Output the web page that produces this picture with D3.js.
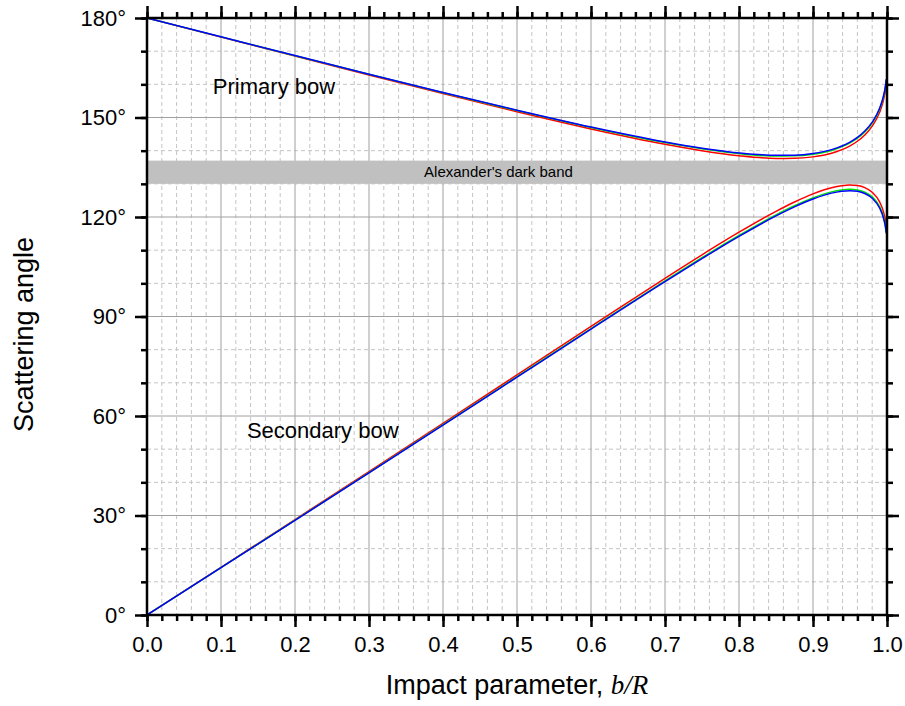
<!DOCTYPE html>
<html>
<head>
<meta charset="utf-8">
<script src="https://cdn.jsdelivr.net/npm/d3@7"></script>
<style>
  html, body { margin: 0; padding: 0; background: #fff; }
  svg { display: block; }
  text { font-family: Arial, "Liberation Sans", sans-serif; }
</style>
</head>
<body>
<svg id="chart" width="905" height="706"></svg>
<script>
// ---- data ----
const impactParameter = [0, 0.1, 0.2, 0.3, 0.4, 0.5, 0.6, 0.7, 0.75, 0.8, 0.85, 0.875, 0.9, 0.925, 0.95, 0.96, 0.97, 0.98, 0.99, 0.995, 0.998, 0.999];

const primaryRed   = [180, 174.24, 168.51, 162.81, 157.20, 151.74, 146.56, 141.93, 139.99, 138.48, 137.67, 137.68, 138.13, 139.24, 141.45, 142.84, 144.73, 147.38, 151.56, 155.02, 158.46, 160.32];
const primaryGreen = [180, 174.31, 168.64, 163.01, 157.47, 152.09, 147.00, 142.46, 140.58, 139.12, 138.38, 138.43, 138.92, 140.07, 142.32, 143.74, 145.64, 148.31, 152.51, 155.98, 159.42, 161.29];
const primaryBlue  = [180, 174.33, 168.67, 163.07, 157.55, 152.19, 147.12, 142.62, 140.75, 139.32, 138.59, 138.65, 139.15, 140.31, 142.58, 144.00, 145.91, 148.59, 152.79, 156.27, 159.71, 161.58];

const secondaryRed   = [0, 14.37, 28.78, 43.24, 57.78, 72.39, 87.03, 101.53, 108.60, 115.41, 121.71, 124.52, 126.96, 128.81, 129.63, 129.47, 128.84, 127.45, 124.56, 121.74, 118.69, 116.96];
const secondaryGreen = [0, 14.28, 28.58, 42.94, 57.37, 71.87, 86.38, 100.73, 107.73, 114.45, 120.64, 123.40, 125.78, 127.57, 128.33, 128.14, 127.48, 126.06, 123.13, 120.29, 117.24, 115.50];
const secondaryBlue  = [0, 14.25, 28.52, 42.86, 57.25, 71.71, 86.18, 100.50, 107.46, 114.16, 120.33, 123.07, 125.43, 127.20, 127.94, 127.74, 127.07, 125.64, 122.70, 119.86, 116.81, 115.07];

const seriesColors = ["#ff0000", "#00e000", "#0000ff"];

const xMajorTicks = [0, 0.1, 0.2, 0.3, 0.4, 0.5, 0.6, 0.7, 0.8, 0.9, 1.0];
const xMinorTicks = d3.range(0, 51).map(i => i / 50);
const yMajorTicks = [0, 30, 60, 90, 120, 150, 180];
const yMinorTicks = d3.range(0, 19).map(i => i * 10);

const darkBand = [130, 137];
const darkBandLabel = "Alexander's dark band";
const darkBandLabelX = 0.475;
const annotations = [
  { text: "Primary bow", x: 0.089, y: 157.1 },
  { text: "Secondary bow", x: 0.135, y: 53.4 }
];

// ---- layout ----
const svg = d3.select("#chart");
const pLeft = 147, pRight = 887, pTop = 18, pBottom = 615;
const x = d3.scaleLinear().domain([0, 1]).range([pLeft, pRight]);
const y = d3.scaleLinear().domain([0, 180]).range([pBottom, pTop]);

svg.append("defs").append("clipPath").attr("id", "clip")
  .append("rect").attr("x", pLeft).attr("y", pTop).attr("width", pRight - pLeft).attr("height", pBottom - pTop);

// grid: minor dashed
const grid = svg.append("g");
grid.selectAll("line.vminor").data(xMinorTicks.filter(d => Math.round(d * 50) % 5 !== 0)).join("line")
  .attr("x1", d => x(d)).attr("x2", d => x(d)).attr("y1", pTop).attr("y2", pBottom)
  .attr("stroke", "#c4c4c4").attr("stroke-width", 1).attr("stroke-dasharray", "4,3");
grid.selectAll("line.hminor").data(yMinorTicks.filter(d => d % 30 !== 0)).join("line")
  .attr("y1", d => y(d)).attr("y2", d => y(d)).attr("x1", pLeft).attr("x2", pRight)
  .attr("stroke", "#c4c4c4").attr("stroke-width", 1).attr("stroke-dasharray", "4,3");
// grid: major solid
grid.selectAll("line.vmajor").data(xMajorTicks).join("line")
  .attr("x1", d => x(d)).attr("x2", d => x(d)).attr("y1", pTop).attr("y2", pBottom)
  .attr("stroke", "#a0a0a0").attr("stroke-width", 1);
grid.selectAll("line.hmajor").data(yMajorTicks).join("line")
  .attr("y1", d => y(d)).attr("y2", d => y(d)).attr("x1", pLeft).attr("x2", pRight)
  .attr("stroke", "#a0a0a0").attr("stroke-width", 1);

// dark band
svg.append("rect")
  .attr("x", pLeft).attr("width", pRight - pLeft)
  .attr("y", y(darkBand[1])).attr("height", y(darkBand[0]) - y(darkBand[1]))
  .attr("fill", "#c0c0c0");
svg.append("text")
  .attr("x", x(darkBandLabelX)).attr("y", (y(darkBand[0]) + y(darkBand[1])) / 2 + 5)
  .attr("text-anchor", "middle").attr("font-size", 15).attr("fill", "#000")
  .text(darkBandLabel);

// curves
const line = d3.line().x((d, i) => x(impactParameter[i])).y(d => y(d)).curve(d3.curveMonotoneX);
const curves = svg.append("g").attr("clip-path", "url(#clip)");
[[secondaryRed, primaryRed], [secondaryGreen, primaryGreen], [secondaryBlue, primaryBlue]].forEach((pair, k) => {
  pair.forEach(series => {
    curves.append("path").attr("d", line(series))
      .attr("fill", "none").attr("stroke", seriesColors[k]).attr("stroke-width", 1.5);
  });
});

// annotations
annotations.forEach(a => {
  svg.append("text").attr("x", x(a.x)).attr("y", y(a.y))
    .attr("font-size", 22).attr("fill", "#000").text(a.text);
});

// axes
function styleAxis(g) {
  g.select(".domain").remove();
  g.selectAll(".tick line").attr("stroke", "#000").attr("stroke-width", 2.5);
  g.selectAll(".tick text").attr("font-size", 22).attr("fill", "#000")
    .attr("font-family", "Arial, 'Liberation Sans', sans-serif");
}
const fmtX = d3.format(".1f");
svg.append("g").attr("transform", `translate(0,${pBottom})`)
  .call(d3.axisBottom(x).tickValues(xMinorTicks).tickSize(6).tickFormat("")).call(styleAxis);
svg.append("g").attr("transform", `translate(0,${pBottom})`)
  .call(d3.axisBottom(x).tickValues(xMajorTicks).tickSize(12).tickPadding(9).tickFormat(fmtX)).call(styleAxis);
svg.append("g").attr("transform", `translate(0,${pTop})`)
  .call(d3.axisTop(x).tickValues(xMinorTicks).tickSize(6).tickFormat("")).call(styleAxis);
svg.append("g").attr("transform", `translate(0,${pTop})`)
  .call(d3.axisTop(x).tickValues(xMajorTicks).tickSize(12).tickFormat("")).call(styleAxis);
svg.append("g").attr("transform", `translate(${pLeft},0)`)
  .call(d3.axisLeft(y).tickValues(yMinorTicks).tickSize(6).tickFormat("")).call(styleAxis);
svg.append("g").attr("transform", `translate(${pLeft},0)`)
  .call(d3.axisLeft(y).tickValues(yMajorTicks).tickSize(12).tickPadding(9).tickFormat(d => d + "°")).call(styleAxis);
svg.append("g").attr("transform", `translate(${pRight},0)`)
  .call(d3.axisRight(y).tickValues(yMinorTicks).tickSize(6).tickFormat("")).call(styleAxis);
svg.append("g").attr("transform", `translate(${pRight},0)`)
  .call(d3.axisRight(y).tickValues(yMajorTicks).tickSize(12).tickFormat("")).call(styleAxis);

// frame
svg.append("rect").attr("x", pLeft).attr("y", pTop).attr("width", pRight - pLeft).attr("height", pBottom - pTop)
  .attr("fill", "none").attr("stroke", "#000").attr("stroke-width", 2.5);

// axis titles
const xt = svg.append("text").attr("x", (pLeft + pRight) / 2).attr("y", 694)
  .attr("text-anchor", "middle").attr("font-size", 27).attr("fill", "#000");
xt.append("tspan").text("Impact parameter, ");
xt.append("tspan").attr("font-family", "'Liberation Serif', 'DejaVu Serif', serif").attr("font-style", "italic").text("b/R");

svg.append("text").attr("transform", `translate(33,${(pTop + pBottom) / 2 + 18}) rotate(-90)`)
  .attr("text-anchor", "middle").attr("font-size", 27).attr("fill", "#000")
  .text("Scattering angle");
</script>
</body>
</html>
